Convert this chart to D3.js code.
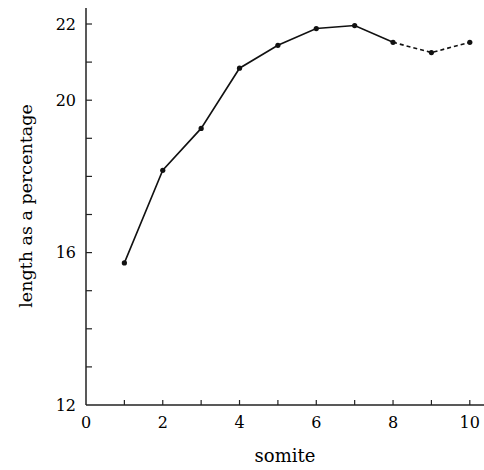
<!DOCTYPE html>
<html>
<head>
<meta charset="utf-8">
<script src="https://cdn.jsdelivr.net/npm/d3@7"></script>
<style>
body { margin: 0; background: #fff; }
</style>
</head>
<body>
<script>
// somite number and length as a percentage
var somites = [1, 2, 3, 4, 5, 6, 7, 8, 9, 10];
var lengths = [15.73, 18.16, 19.26, 20.84, 21.44, 21.88, 21.96, 21.52, 21.25, 21.52];
var xTicks = [0, 1, 2, 3, 4, 5, 6, 7, 8, 9, 10];
var xLabels = [0, 2, 4, 6, 8, 10];
var yTicks = [12, 13, 14, 15, 16, 17, 18, 19, 20, 21, 22];
var yLabels = [12, 16, 20, 22];
var solidUntil = 8; // last point of the solid part, dashed after

var font = 'DejaVu Serif';

var svg = d3.select('body').append('svg')
	.attr('width', 484)
	.attr('height', 470);

var x = d3.scaleLinear().domain([0, 10.37]).range([86, 484]);
var y = d3.scaleLinear().domain([12, 22.42]).range([405, 8]);

/*
/	AXES
*/
var axisGroup = svg.append('g');

axisGroup.append('line')
	.attr('x1', x(0)).attr('x2', x(0))
	.attr('y1', y(12)).attr('y2', y(22.42))
	.attr('stroke', '#222').attr('stroke-width', 1.5);

axisGroup.append('line')
	.attr('x1', x(0)).attr('x2', x(10.37))
	.attr('y1', y(12)).attr('y2', y(12))
	.attr('stroke', '#222').attr('stroke-width', 1.5);

axisGroup.selectAll('.ytick').data(yTicks.filter(function(d){ return d > 12; })).enter()
	.append('line')
	.attr('x1', x(0)).attr('x2', x(0) + 6)
	.attr('y1', function(d){ return y(d); })
	.attr('y2', function(d){ return y(d); })
	.attr('stroke', '#222').attr('stroke-width', 1.2);

axisGroup.selectAll('.xtick').data(xTicks.filter(function(d){ return d > 0; })).enter()
	.append('line')
	.attr('x1', function(d){ return x(d); })
	.attr('x2', function(d){ return x(d); })
	.attr('y1', y(12)).attr('y2', y(12) - 5)
	.attr('stroke', '#222').attr('stroke-width', 1.2);

axisGroup.selectAll('.ylab').data(yLabels).enter()
	.append('text')
	.attr('x', x(0) - 10)
	.attr('y', function(d){ return y(d); })
	.attr('dy', '0.35em')
	.attr('text-anchor', 'end')
	.attr('font-family', font)
	.attr('font-size', '16px')
	.attr('fill', '#000')
	.text(function(d){ return d; });

axisGroup.selectAll('.xlab').data(xLabels).enter()
	.append('text')
	.attr('x', function(d){ return x(d); })
	.attr('y', 428)
	.attr('text-anchor', 'middle')
	.attr('font-family', font)
	.attr('font-size', '16px')
	.attr('fill', '#000')
	.text(function(d){ return d; });

axisGroup.append('text')
	.attr('x', 285)
	.attr('y', 462)
	.attr('text-anchor', 'middle')
	.attr('font-family', font)
	.attr('font-size', '18px')
	.attr('fill', '#000')
	.text('somite');

axisGroup.append('text')
	.attr('transform', 'translate(32,206) rotate(-90)')
	.attr('text-anchor', 'middle')
	.attr('font-family', font)
	.attr('font-size', '17.5px')
	.attr('fill', '#000')
	.text('length as a percentage');

/*
/	DATA LINE
*/
var points = somites.map(function(s, i){ return {s: s, v: lengths[i]}; });
var line = d3.line()
	.x(function(d){ return x(d.s); })
	.y(function(d){ return y(d.v); });

svg.append('path')
	.datum(points.filter(function(d){ return d.s <= solidUntil; }))
	.attr('d', line)
	.attr('fill', 'none')
	.attr('stroke', '#111')
	.attr('stroke-width', 1.6);

svg.append('path')
	.datum(points.filter(function(d){ return d.s >= solidUntil; }))
	.attr('d', line)
	.attr('fill', 'none')
	.attr('stroke', '#111')
	.attr('stroke-width', 1.6)
	.attr('stroke-dasharray', '4,3');

svg.selectAll('.pt').data(points).enter()
	.append('circle')
	.attr('cx', function(d){ return x(d.s); })
	.attr('cy', function(d){ return y(d.v); })
	.attr('r', 2.6)
	.attr('fill', '#111');
</script>
</body>
</html>
